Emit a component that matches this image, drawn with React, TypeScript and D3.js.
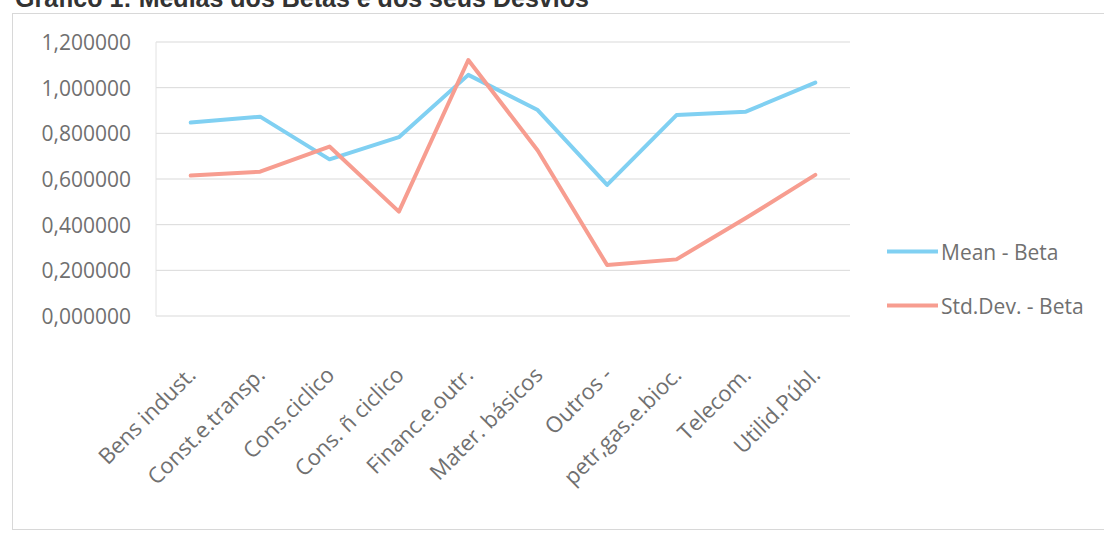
import React from "react";
import * as d3 from "d3";

const categories = [
  "Bens indust.",
  "Const.e.transp.",
  "Cons.ciclico",
  "Cons. ñ ciclico",
  "Financ.e.outr.",
  "Mater. básicos",
  "Outros -",
  "petr,gas.e.bioc.",
  "Telecom.",
  "Utilid.Públ.",
];
const meanBeta = [0.847, 0.873, 0.686, 0.783, 1.056, 0.902, 0.574, 0.88, 0.895, 1.022];
const stdBeta = [0.615, 0.632, 0.742, 0.457, 1.121, 0.725, 0.223, 0.248, 0.429, 0.618];
const yTicks = [0, 0.2, 0.4, 0.6, 0.8, 1.0, 1.2];
const seriesNames = ["Mean - Beta", "Std.Dev. - Beta"];
const title = "Gráfico 1: Médias dos Betas e dos seus Desvios";

const W = 1104;
const H = 533;
const plot = { left: 156, right: 850, top: 42, bottom: 316 };
const colors = ["#80d0f2", "#f79d90"];
const textColor = "#707070";
const font = "'Open Sans', sans-serif";

export default function App() {
  const x = d3.scaleBand<string>().domain(categories).range([plot.left, plot.right]);
  const y = d3.scaleLinear().domain([0, 1.2]).range([plot.bottom, plot.top]);
  const cx = (c: string) => (x(c) as number) + x.bandwidth() / 2;
  const fmt = (v: number) => d3.format(".6f")(v).replace(".", ",");
  const line = d3
    .line<number>()
    .x((_, i) => cx(categories[i]))
    .y((d) => y(d));
  const series = [meanBeta, stdBeta];

  return (
    <div style={{ position: "absolute", left: 0, top: 0 }}>
      <svg width={W} height={H} style={{ display: "block", background: "#fff" }}>
        <rect x={0} y={0} width={W} height={H} fill="#fff" />
        <text x={15} y={7} fontFamily="'Liberation Sans', Arial, sans-serif" fontWeight="bold" fontSize={25} fill="#333">
          {title}
        </text>
        <rect x={12.5} y={13.5} width={W + 10} height={516} fill="none" stroke="#d8d8d8" strokeWidth={1} />
        {yTicks.map((t) => (
          <line key={"g" + t} x1={plot.left} x2={plot.right} y1={y(t)} y2={y(t)} stroke="#d9d9d9" strokeWidth={1} />
        ))}
        <line x1={plot.left} x2={plot.left} y1={plot.top} y2={plot.bottom} stroke="#e2e2e2" strokeWidth={1} />
        {yTicks.map((t) => (
          <text
            key={"t" + t}
            x={131}
            y={y(t)}
            textAnchor="end"
            dominantBaseline="central"
            fontFamily={font}
            fontSize={21}
            fill={textColor}
          >
            {fmt(t)}
          </text>
        ))}
        {categories.map((c) => (
          <text
            key={c}
            transform={`translate(${cx(c)},${370}) rotate(-45)`}
            textAnchor="end"
            dominantBaseline="central"
            fontFamily={font}
            fontSize={22}
            fill={textColor}
          >
            {c}
          </text>
        ))}
        {series.map((s, i) => (
          <path
            key={"s" + i}
            d={line(s) as string}
            fill="none"
            stroke={colors[i]}
            strokeWidth={4}
            strokeLinejoin="round"
            strokeLinecap="round"
          />
        ))}
        {seriesNames.map((n, i) => (
          <g key={n} transform={`translate(0,${251.5 + i * 54})`}>
            <line x1={887} x2={938} y1={0} y2={0} stroke={colors[i]} strokeWidth={4} />
            <text x={941} y={0} dominantBaseline="central" fontFamily={font} fontSize={21} fill={textColor}>
              {n}
            </text>
          </g>
        ))}
      </svg>
    </div>
  );
}
